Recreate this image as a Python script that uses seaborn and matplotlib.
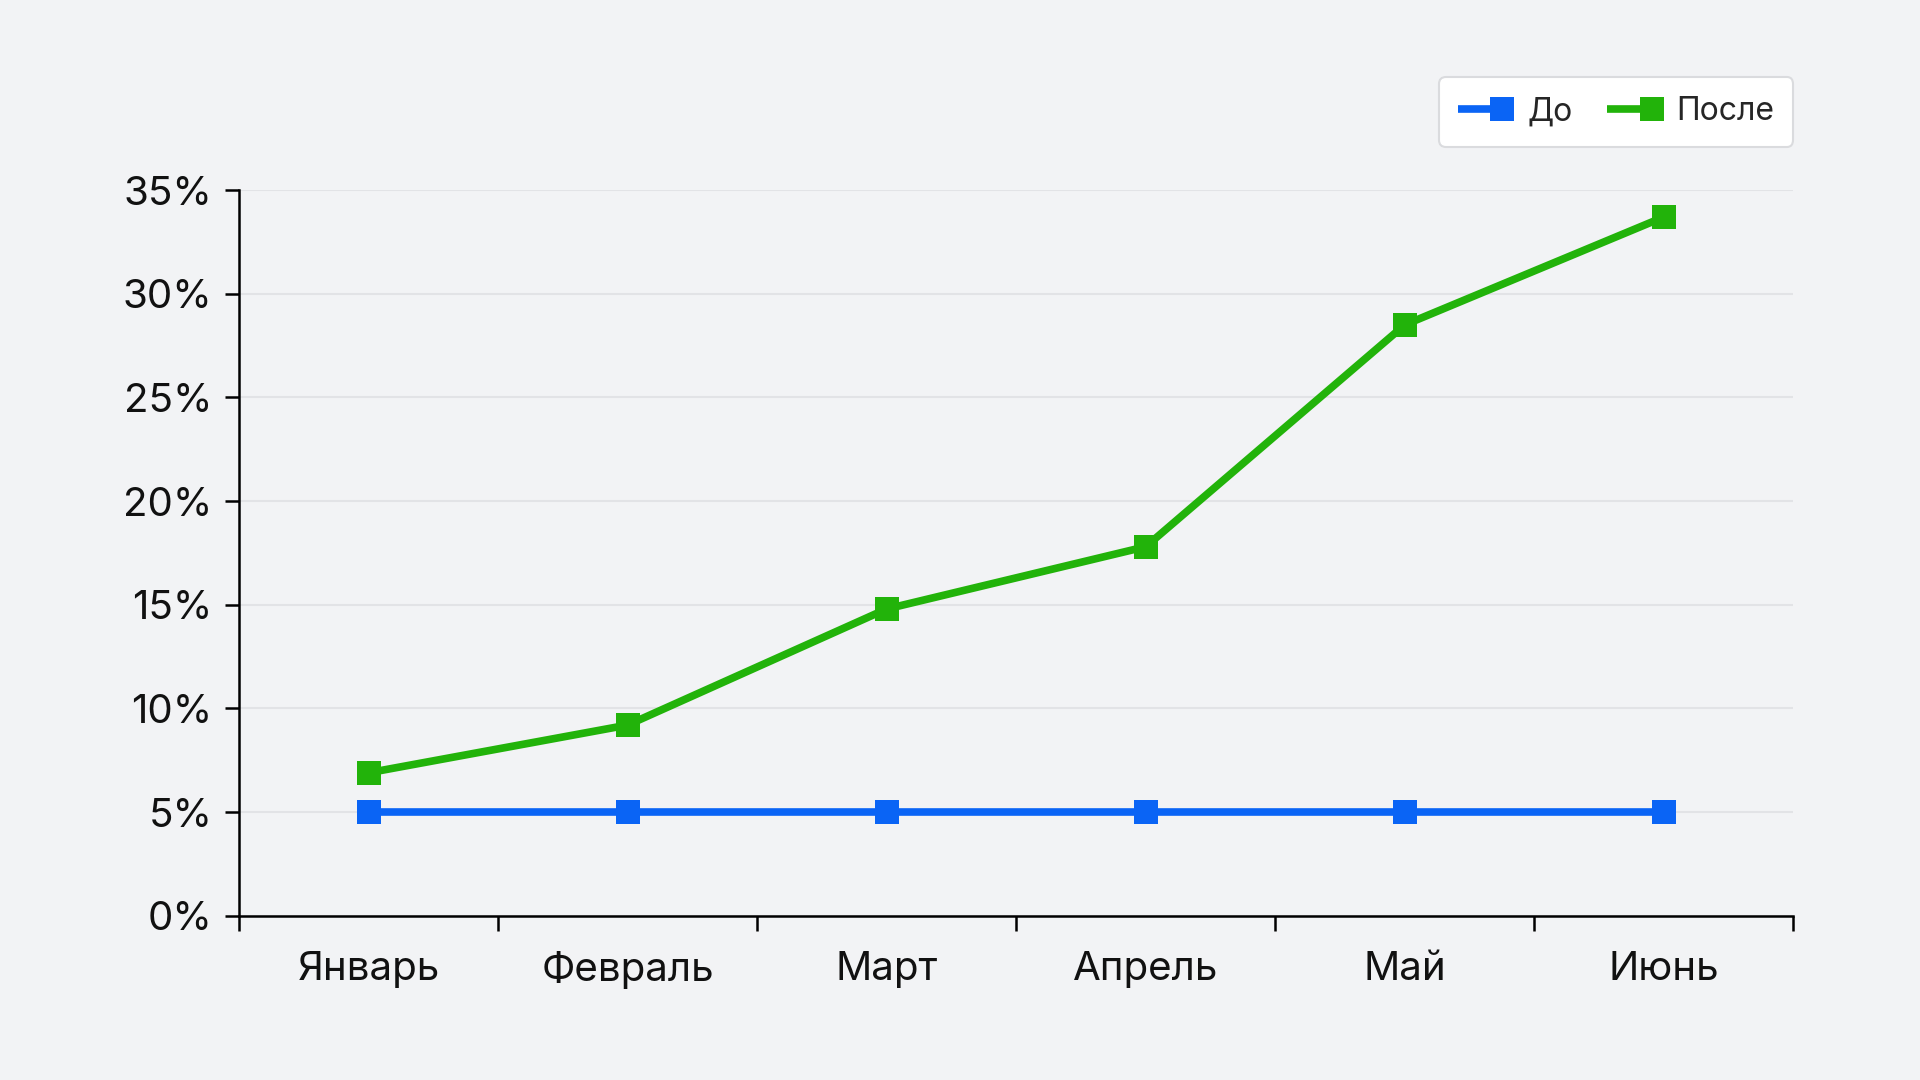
import numpy as np
import pandas as pd
import matplotlib
matplotlib.use("Agg")
import matplotlib.pyplot as plt
import seaborn as sns
from matplotlib.lines import Line2D
from matplotlib.legend_handler import HandlerLine2D
from matplotlib.ticker import FixedLocator, FuncFormatter

# data
months = ['Январь', 'Февраль', 'Март', 'Апрель', 'Май', 'Июнь']
before = [5.0, 5.0, 5.0, 5.0, 5.0, 5.0]
after = [6.9, 9.2, 14.8, 17.8, 28.5, 33.7]
series_names = ['До', 'После']
y_ticks = [0, 5, 10, 15, 20, 25, 30, 35]

blue = '#0A64F5'
green = '#22B30A'
bg = '#F2F3F5'
MS = 17


class MarkerAtEnd(HandlerLine2D):
    # legend handle: line on the left, square marker at the right end
    def create_artists(self, legend, orig_handle, xdescent, ydescent,
                       width, height, fontsize, trans):
        artists = super().create_artists(legend, orig_handle, xdescent, ydescent,
                                         width, height, fontsize, trans)
        line = artists[0]
        xs = line.get_xdata()
        x0, x1 = xs[0], xs[-1]
        y = line.get_ydata()[0]
        line.set_data([x0, x1 - MS / 2, x1 - MS / 2], [y, y, y])
        line.set_markevery([1])
        line.set_solid_capstyle('butt')
        return artists


df = pd.DataFrame({
    'month': months * 2,
    'value': before + after,
    'series': [series_names[0]] * len(months) + [series_names[1]] * len(months),
})

sns.set_theme(style='white')
plt.rcParams['font.family'] = ['Inter', 'DejaVu Sans']

fig = plt.figure(figsize=(19.2, 10.8), dpi=100, facecolor=bg)
ax = fig.add_axes([0.1245, 0.152, 0.8095, 0.672])
ax.set_facecolor(bg)

sns.lineplot(data=df, x='month', y='value', hue='series', style='series',
             palette=[blue, green], markers=['s', 's'], dashes=False,
             linewidth=5.5, markersize=MS, markeredgewidth=0, ax=ax, legend=False,
             zorder=3)

ax.set_xlim(-0.5, len(months) - 0.5)
ax.set_ylim(0, 35)

# y axis
ax.yaxis.set_major_locator(FixedLocator(y_ticks))
ax.yaxis.set_major_formatter(FuncFormatter(lambda v, p: f'{v:.0f}%'))
ax.tick_params(axis='y', which='major', left=True, length=10, width=1.8, color='black',
               labelsize=29, pad=9, labelcolor='#111111')
ax.grid(axis='y', color='#E2E3E6', linewidth=1.5, zorder=0)

# x axis: ticks at category borders, labels centred
ax.xaxis.set_major_locator(FixedLocator(np.arange(-0.5, len(months), 1.0)))
ax.xaxis.set_major_formatter(FuncFormatter(lambda v, p: ''))
ax.xaxis.set_minor_locator(FixedLocator(np.arange(len(months))))
ax.set_xticklabels(months, minor=True)
ax.tick_params(axis='x', which='major', bottom=True, length=11, width=1.8, color='black')
ax.tick_params(axis='x', which='minor', bottom=True, length=0, labelsize=29, pad=25,
               labelcolor='#111111')

ax.set_xlabel('')
ax.set_ylabel('')

for side in ['top', 'right']:
    ax.spines[side].set_visible(False)
for side in ['left', 'bottom']:
    ax.spines[side].set_color('black')
    ax.spines[side].set_linewidth(1.8)

handles = [
    Line2D([], [], color=blue, lw=5.5, marker='s', markersize=MS, markeredgewidth=0),
    Line2D([], [], color=green, lw=5.5, marker='s', markersize=MS, markeredgewidth=0),
]
leg = ax.legend(handles, series_names, loc='lower right', bbox_to_anchor=(1.0, 1.06),
                ncol=2, numpoints=1, fontsize=23, frameon=True, fancybox=True,
                facecolor='white', edgecolor='#DADBDE', framealpha=1,
                handlelength=1.75, handletextpad=0.4, columnspacing=1.1,
                borderpad=0.6, borderaxespad=0,
                handler_map={Line2D: MarkerAtEnd()})
leg.get_frame().set_linewidth(1.5)

fig.savefig('out.png', dpi=100, facecolor=bg)
